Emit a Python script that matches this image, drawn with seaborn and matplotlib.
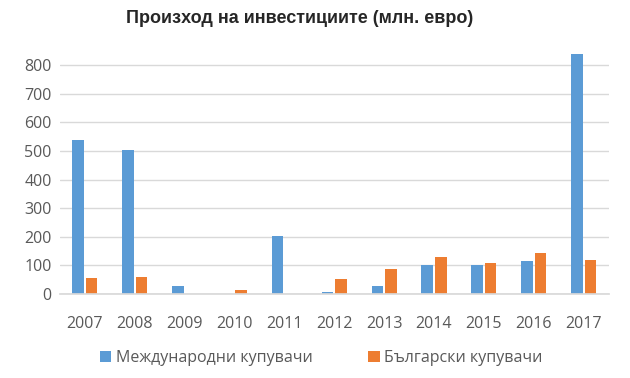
import pandas as pd
import matplotlib
matplotlib.use('Agg')
import matplotlib.pyplot as plt
import seaborn as sns

years = ['2007', '2008', '2009', '2010', '2011', '2012', '2013', '2014', '2015', '2016', '2017']
international = [538, 503, 27, 0, 203, 9, 29, 102, 102, 116, 840]
bulgarian = [56, 59, 0, 16, 0, 52, 88, 130, 108, 145, 118]
series_names = ['Международни купувачи', 'Български купувачи']

sns.set_theme(style='white')
plt.rcParams['font.family'] = ['Open Sans', 'DejaVu Sans']

df = pd.DataFrame({
    'year': years * 2,
    'value': international + bulgarian,
    'series': [series_names[0]] * len(years) + [series_names[1]] * len(years),
})

fig = plt.figure(figsize=(6.3, 3.78), dpi=100)
ax = fig.add_axes([0.095, 0.222, 0.871, 0.659])

sns.barplot(data=df, x='year', y='value', hue='series', order=years,
            hue_order=series_names, palette=['#5B9BD5', '#ED7D31'],
            width=0.54, saturation=1, linewidth=0, ax=ax, legend=True)

# small white gap between the paired bars
for p in ax.patches:
    w = p.get_width()
    p.set_x(p.get_x() + w * 0.07)
    p.set_width(w * 0.86)

ax.set_ylim(0, 870)
ax.set_xlim(-0.5, len(years) - 0.5)
ax.set_yticks(range(0, 900, 100))
ax.yaxis.grid(True, color='#D9D9D9', linewidth=1)
ax.set_axisbelow(True)
for s in ['top', 'right', 'left']:
    ax.spines[s].set_visible(False)
ax.spines['bottom'].set_color('#D9D9D9')
ax.set_xlabel('')
ax.set_ylabel('')
ax.tick_params(axis='both', length=0, labelsize=11.5, colors='#595959')
ax.tick_params(axis='x', pad=16)
ax.tick_params(axis='y', pad=6)

fig.text(0.475, 0.95, 'Произход на инвестициите (млн. евро)', ha='center', va='center',
         fontsize=13, fontweight='bold', family=['Liberation Sans', 'DejaVu Sans'])

handles, labels = ax.get_legend_handles_labels()
ax.legend_.remove()
fig.legend(handles, labels, loc='center', bbox_to_anchor=(0.51, 0.052), ncol=2,
           frameon=False, fontsize=11.5, handlelength=0.7, handleheight=0.7,
           handletextpad=0.3, columnspacing=3.5, labelcolor='#595959')

fig.savefig('out.png', dpi=100)
